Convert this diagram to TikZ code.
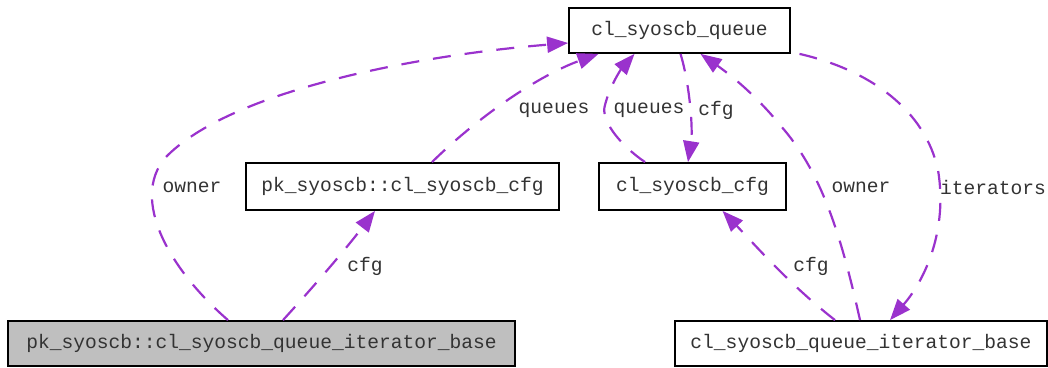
\documentclass[tikz,border=0pt]{standalone}
\usepackage{fontspec}
\setmonofont{Liberation Mono}
\usetikzlibrary{arrows.meta,calc}
\definecolor{edgecol}{HTML}{9A32CD}
\definecolor{fillgray}{HTML}{BFBFBF}
\begin{document}
\begin{tikzpicture}[x=1pt,y=-1pt,
  cls/.style={draw=black,line width=1.8pt,fill=white,inner sep=0pt,
    font=\fontsize{19.6}{22}\ttfamily,text=black!80},
  lbl/.style={inner sep=0pt,font=\fontsize{19.6}{22}\ttfamily,text=black!80},
  rel/.style={draw=edgecol,line width=2.2pt,dash pattern=on 18pt off 14pt,
    -{Triangle[length=21pt,width=16pt,fill=edgecol]}},
]
\useasboundingbox (0,0) rectangle (1048,367);

% classes
\node[cls,minimum width=221pt,minimum height=45pt] (queue) at (679.5,30.5) {cl\_syoscb\_queue};
\node[cls,minimum width=313pt,minimum height=47pt] (pkcfg) at (402.5,186.5) {pk\_syoscb::cl\_syoscb\_cfg};
\node[cls,minimum width=187pt,minimum height=47pt] (cfg) at (692.5,186.5) {cl\_syoscb\_cfg};
\node[cls,fill=fillgray,minimum width=507pt,minimum height=45pt] (pkit) at (261.5,343.5) {pk\_syoscb::cl\_syoscb\_queue\_iterator\_base};
\node[cls,minimum width=372pt,minimum height=45pt] (it) at (861,343.5) {cl\_syoscb\_queue\_iterator\_base};

% relations
\draw[rel] ([xshift=-33.5pt]pkit.north) .. controls (170,270) and (130,200) .. (165,158)
  .. controls (230,90) and (420,55) .. ([yshift=-12.5pt]queue.west);
\draw[rel] ([xshift=29.5pt]pkcfg.north) .. controls (480,115) and (540,75) .. ([xshift=-81pt]queue.south);
\draw[rel] ([xshift=-47.5pt]cfg.north) .. controls (620,145) and (600,120) .. (605,105)
  .. controls (610,85) and (622,68) .. ([xshift=-45pt]queue.south);
\draw[rel] ([xshift=1pt]queue.south) .. controls (690,85) and (693,130) .. ([xshift=-4.5pt]cfg.north);
\draw[rel] ([xshift=-1pt]it.north) .. controls (840,230) and (820,170) .. (780,125)
  .. controls (760,100) and (735,78) .. ([xshift=21pt]queue.south);
\draw[rel] ([xshift=120pt]queue.south) .. controls (870,70) and (925,110) .. (938,170)
  .. controls (948,230) and (925,280) .. ([xshift=29pt]it.north);
\draw[rel] ([xshift=-26pt]it.north) .. controls (790,285) and (755,245) .. ([xshift=30pt]cfg.south);
\draw[rel] ([xshift=21.5pt]pkit.north) .. controls (315,285) and (345,250) .. ([xshift=-27.5pt]pkcfg.south);

% relation labels
\node[lbl] (l1) at (192,187) {owner};
\node[lbl] (l2) at (554,110) {queues};
\node[lbl] (l3) at (649,110) {queues};
\node[lbl] (l4) at (716,110) {cfg};
\node[lbl] (l5) at (861,187) {owner};
\node[lbl] (l6) at (993,187) {iterators};
\node[lbl] (l7) at (365,266) {cfg};
\node[lbl] (l8) at (811,266) {cfg};
\end{tikzpicture}
\end{document}
